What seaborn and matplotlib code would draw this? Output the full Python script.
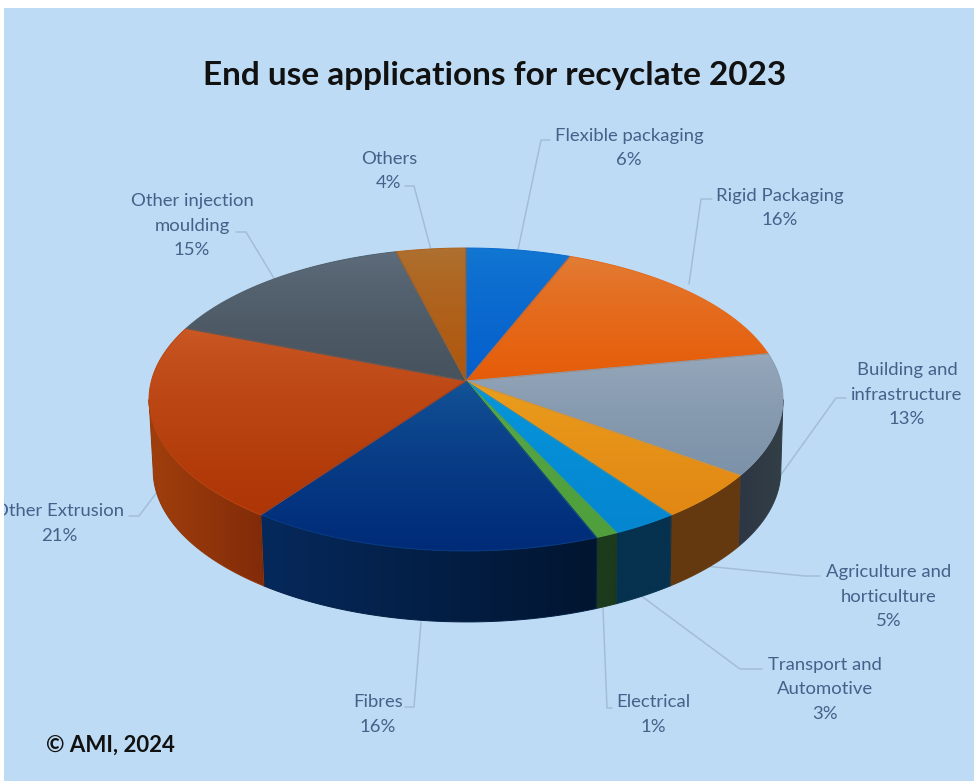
import numpy as np
import matplotlib
matplotlib.use("Agg")
import matplotlib.pyplot as plt
from matplotlib.patches import Polygon, Rectangle
import seaborn as sns

# ---- data ----
categories = ["Flexible packaging", "Rigid Packaging", "Building and\ninfrastructure",
              "Agriculture and\nhorticulture", "Transport and\nAutomotive", "Electrical",
              "Fibres", "Other Extrusion", "Other injection\nmoulding", "Others"]
shares = [6, 16, 13, 5, 3, 1, 16, 21, 15, 4]
title_text = "End use applications for recyclate 2023"
credit_text = "© AMI, 2024"

# ---- styles ----
top_colors = [("#1278D2", "#055FCC"), ("#E27F38", "#E65C08"), ("#98A9BC", "#7C92A8"),
              ("#EBA11E", "#E28714"), ("#0599DD", "#0586D0"), ("#5CA84A", "#4F9F3C"),
              ("#14569A", "#002B78"), ("#CB5A25", "#AE3505"), ("#5F6E7E", "#46525C"),
              ("#AE7232", "#B0560C")]
wall_colors = [("#0A3A70", "#0A3A70"), ("#70380A", "#70380A"), ("#2C3644", "#333F46"),
               ("#64390F", "#663A10"), ("#06314F", "#06324F"), ("#1C3A1C", "#1C3A1C"),
               ("#06295C", "#011530"), ("#A03F0C", "#822B09"), ("#30363C", "#30363C"),
               ("#6A3A0A", "#6A3A0A")]
label_centers = [(629, 148), (780, 208), (907, 394.5), (889, 596.5), (825, 689.5),
                 (653, 714.5), (378, 714.5), (59, 523.5), (192, 225.5), (389, 171)]
leaders = [[(518, 250), (541, 140), (550, 140)],
           [(689, 284), (701, 199), (712, 199)],
           [(775, 483), (836, 398), (846, 398)],
           [(705, 566), (805, 576), (820, 576)],
           [(640, 595), (740, 669), (762, 669)],
           [(603, 608), (607, 708), (612, 708)],
           [(421, 622), (414, 707), (405, 707)],
           [(157, 492), (139, 516), (129, 516)],
           [(275, 280), (246, 232), (236, 232)],
           [(431, 250), (414, 186), (405, 186)]]
BG = "#BDDBF5"
TEXT = "#44618A"
LINE = "#A3BDD9"

CX, CY, A, B, K, DEPTH, SHRINK, SHIFT = 466.0, 381.0, 314.6, 149.2, 0.122, 71.0, 0.99, 1.0

sns.set_theme(style="white")
plt.rcParams["font.family"] = ["Lato", "DejaVu Sans"]

fig = plt.figure(figsize=(9.74, 7.81), dpi=100, facecolor="white")
ax = fig.add_axes([0, 0, 1, 1])
ax.axis("off")
ax.set_xlim(0, 974)
ax.set_ylim(781, 0)

bg = Rectangle((4, 8), 970, 773, facecolor=BG, edgecolor="none", zorder=0)
ax.add_patch(bg)


def project(theta):
    u, v = np.sin(theta), np.cos(theta)
    d = 1 + K * v
    return CX + A * u / d, CY - B * v / d


def gradient_fill(xy, colors, horizontal, zorder, gamma=1.0):
    xy = np.asarray(xy)
    x0, y0 = xy.min(axis=0)
    x1, y1 = xy.max(axis=0)
    ramp = np.array(sns.blend_palette(list(colors), 256))[:, :3]
    ramp = ramp[(np.linspace(0, 1, 256) ** gamma * 255).astype(int)]
    img = ramp[None, :, :] if horizontal else ramp[:, None, :]
    poly = Polygon(xy, closed=True, facecolor="none", edgecolor="none", transform=ax.transData)
    ax.add_patch(poly)
    im = ax.imshow(img, extent=(x0, x1, y1, y0), origin="upper", aspect="auto",
                   interpolation="bilinear", zorder=zorder)
    im.set_clip_path(poly)
    mid = ramp[128]
    ax.add_patch(Polygon(xy, closed=True, facecolor="none", edgecolor=mid, lw=0.7, zorder=zorder + 0.1))


edges = np.cumsum([0] + shares) / sum(shares) * 2 * np.pi
front_lo = np.arccos(-K)
front_hi = 2 * np.pi - front_lo

# walls: only the part of each slice's rim that faces the viewer
for i in range(len(shares)):
    lo_v, hi_v = max(edges[i], front_lo), min(edges[i + 1], front_hi)
    if hi_v <= lo_v:
        continue
    t = np.linspace(lo_v, hi_v, 80)
    x, y = project(t)
    xb = CX + SHIFT + (x - CX) * SHRINK
    yb = y + DEPTH
    xy = np.r_[np.c_[x, y], np.c_[xb, yb][::-1]]
    gradient_fill(xy, wall_colors[i], True, 2 + i * 0.01)

# top faces
for i in range(len(shares)):
    t = np.linspace(edges[i], edges[i + 1], 120)
    x, y = project(t)
    xy = np.r_[[[CX, CY]], np.c_[x, y]]
    gradient_fill(xy, top_colors[i], False, 3 + i * 0.01, gamma=0.7)

# leaders
for pts in leaders:
    pts = np.array(pts)
    ax.plot(pts[:, 0], pts[:, 1], color=LINE, lw=1.1, zorder=1, solid_capstyle="round")

# labels
for name, val, (lx, ly) in zip(categories, shares, label_centers):
    t = ax.text(lx, ly, f"{name}\n{val}%", ha="center", va="center", color=TEXT,
                fontsize=13.3, linespacing=1.68, zorder=5)
    t.set_clip_path(bg)
    t.set_clip_on(True)

ax.text(494.5, 75, title_text, ha="center", va="center", fontsize=24, fontweight="bold",
        color="#111111", zorder=5)
ax.text(46, 745, credit_text, ha="left", va="center", fontsize=16, fontweight="bold",
        color="#111111", zorder=5)

ax.set_xlim(0, 974)
ax.set_ylim(781, 0)
fig.savefig("out.png", dpi=100, facecolor="white")
